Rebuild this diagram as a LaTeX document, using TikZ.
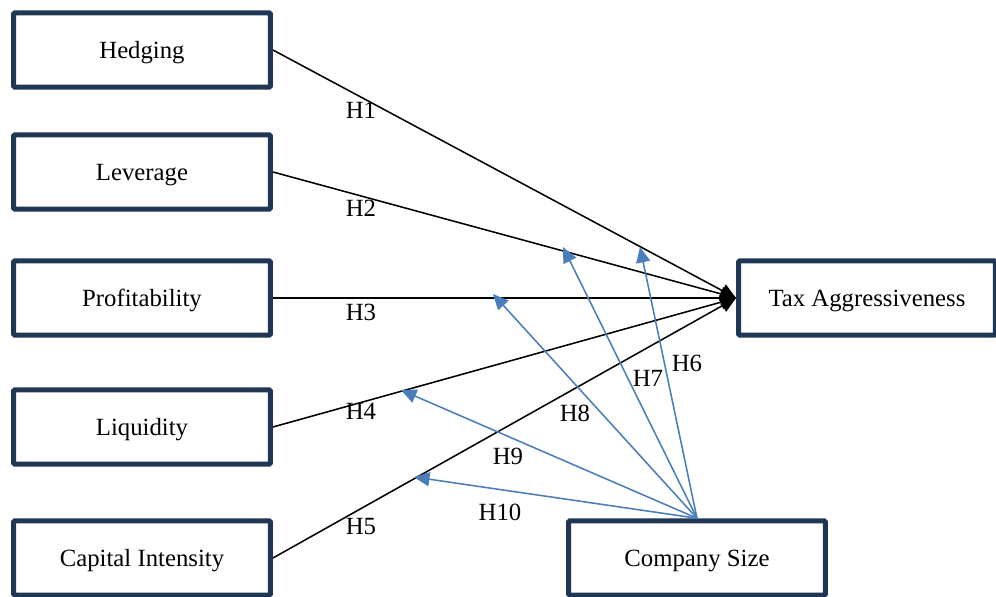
\documentclass[tikz,border=0pt]{standalone}
\usepackage{fontspec}
\setmainfont{Liberation Serif}
\usetikzlibrary{positioning, arrows.meta}
\definecolor{boxline}{HTML}{1F3655}
\definecolor{modline}{HTML}{4A7EBB}

\begin{document}
\begin{tikzpicture}[
  x=0.025cm, y=-0.025cm,
  font=\fontsize{17.6}{20}\selectfont,
  varbox/.style={rectangle, draw=boxline, line width=3.6pt, fill=white, minimum width=6.42cm, minimum height=1.86cm, inner sep=0pt, text depth=0pt, rounded corners=1pt},
  mainarr/.style={black, line width=1.1pt, -{Triangle[length=11pt, width=10pt]}},
  modarr/.style={modline, line width=1.1pt, -{Triangle[length=11pt, width=10pt]}},
  hlbl/.style={inner sep=1pt}
]
  \useasboundingbox[fill=white] (0,0) rectangle (996,597);
  % variables
  \foreach \name/\txt/\yy in {hedg/Hedging/50, lev/Leverage/172, prof/Profitability/298, liq/Liquidity/427, cap/Capital Intensity/558} {
    \node[varbox] (\name) at (142,\yy) {\txt};
  }
  \node[varbox] (tax) at (867,298) {Tax Aggressiveness};
  \node[varbox] (size) at (697,558) {Company Size};
  % direct effects
  \foreach \name in {hedg, lev, prof, liq, cap} {
    \draw[mainarr] (\name.east) -- (tax.west);
  }
  \foreach \txt/\yy in {H1/110, H2/208, H3/312, H4/411, H5/527} {
    \node[hlbl] at (361,\yy) {\txt};
  }
  % moderation
  \coordinate (t6) at (640,247);
  \coordinate (t7) at (563,247);
  \coordinate (t8) at (493,294);
  \coordinate (t9) at (401,390);
  \coordinate (t10) at (414,477);
  \foreach \t in {t6, t7, t8, t9, t10} {
    \draw[modarr] (size.north) -- (\t);
  }
  \node[hlbl] at (687,363) {H6};
  \node[hlbl] at (648,378) {H7};
  \node[hlbl] at (575,413) {H8};
  \node[hlbl] at (508,456) {H9};
  \node[hlbl] at (500,512) {H10};
\end{tikzpicture}
\end{document}
